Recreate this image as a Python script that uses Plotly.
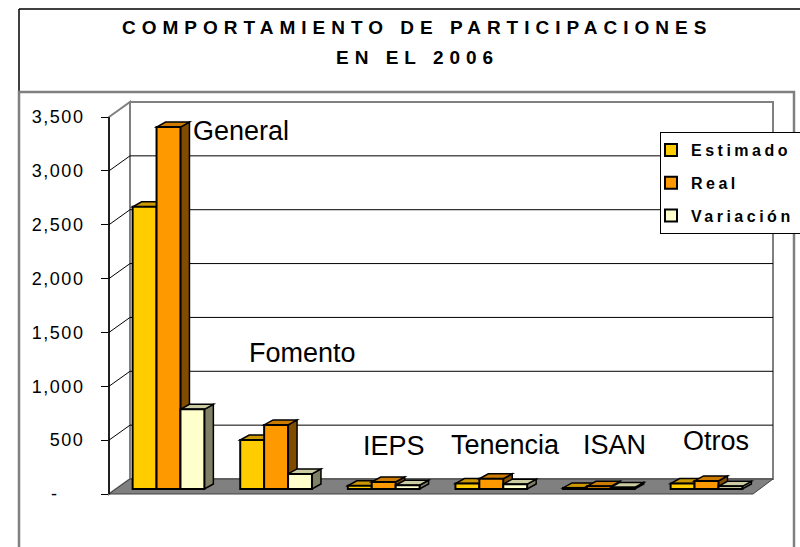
import plotly.graph_objects as go

# ---------------- data ----------------
categorias = ["General", "Fomento", "IEPS", "Tenencia", "ISAN", "Otros"]
estimado = [2620, 455, 30, 50, 10, 50]
real = [3360, 595, 65, 95, 25, 75]
variacion = [740, 140, 35, 45, 15, 25]
series_nombres = ["Estimado", "Real", "Variación"]
y_ticks = [0, 500, 1000, 1500, 2000, 2500, 3000, 3500]
y_ticktext = ["-\u00a0\u00a0\u00a0\u00a0", "500", "1,000", "1,500", "2,000",
              "2,500", "3,000", "3,500"]
titulo = ["COMPORTAMIENTO DE PARTICIPACIONES", "EN EL 2006"]

# ---------------- style ----------------
FONT = "Liberation Sans, Arial, sans-serif"
front_col = ["#FFCC00", "#FF9900", "#FFFFCC"]
top_col = ["#CC9900", "#CC7A00", "#CCCCA3"]
side_col = ["#997300", "#7F4C00", "#808066"]

W, H = 800, 547
L, R, T, B = 109, 780, 95, 500          # plot area in px
PW, PH = R - L, B - T
PITCH = 107.6                            # px per category
X0 = -(168.5 - L) / PITCH
X1 = X0 + PW / PITCH
K = 377 / 3500                           # px per unit
FRONT0 = 494                             # zero line of front plane (px)
BAR0 = 489                               # zero line of bar plane (px)
BASE = (FRONT0 - BAR0) / K               # bar plane sits a little behind the front
DX, DY = 21, 15                          # wall depth (px)
BDX, BDY = 9, 5                          # bar depth (px)
BACK_R, FRONT_R = 773, 753


def px(x):
    return (x - L) / PW


def py(y):
    return (B - y) / PH


series = [estimado, real, variacion]
fig = go.Figure()
for j, (name, vals) in enumerate(zip(series_nombres, series)):
    fig.add_trace(go.Bar(
        x=categorias, y=vals, base=BASE, name=name, customdata=vals,
        marker=dict(color=front_col[j], line=dict(color="black", width=2)),
        legendgroup=name, hovertemplate="%{x}: %{customdata:,}<extra>" + name + "</extra>",
    ))

shapes = []
# frame
shapes.append(dict(type="line", xref="paper", yref="paper", x0=px(19), x1=px(800),
                   y0=py(9), y1=py(9), line=dict(color="black", width=1.5)))
shapes.append(dict(type="line", xref="paper", yref="paper", x0=px(19), x1=px(19),
                   y0=py(9), y1=py(560), line=dict(color="black", width=1.5)))
shapes.append(dict(type="rect", xref="paper", yref="paper", x0=px(19), x1=px(794),
                   y0=py(92), y1=py(600), line=dict(color="#808080", width=2.5)))

ytop_f = FRONT0 - y_ticks[-1] * K
# side wall
shapes.append(dict(type="path", xref="paper", yref="paper", layer="below",
                   path=f"M{px(L)},{py(ytop_f)} L{px(L+DX)},{py(ytop_f-DY)} "
                        f"L{px(L+DX)},{py(FRONT0-DY)} L{px(L)},{py(FRONT0)} Z",
                   fillcolor="white", line=dict(color="#808080", width=2)))
# back wall
shapes.append(dict(type="rect", xref="paper", yref="paper", layer="below",
                   x0=px(L + DX), x1=px(BACK_R), y0=py(FRONT0 - DY), y1=py(ytop_f - DY),
                   fillcolor="white", line=dict(color="#808080", width=2)))
# gridlines
for v in y_ticks[1:-1]:
    yf = FRONT0 - v * K
    shapes.append(dict(type="line", xref="paper", yref="paper", layer="below",
                       x0=px(L + DX), x1=px(BACK_R), y0=py(yf - DY), y1=py(yf - DY),
                       line=dict(color="black", width=1)))
    shapes.append(dict(type="line", xref="paper", yref="paper", layer="below",
                       x0=px(L), x1=px(L + DX), y0=py(yf), y1=py(yf - DY),
                       line=dict(color="black", width=1)))
# floor
shapes.append(dict(type="path", xref="paper", yref="paper", layer="below",
                   path=f"M{px(L)},{py(FRONT0)} L{px(FRONT_R)},{py(FRONT0)} "
                        f"L{px(BACK_R)},{py(FRONT0-DY)} L{px(L+DX)},{py(FRONT0-DY)} Z",
                   fillcolor="#808080", line=dict(color="#404040", width=1)))
# front axis line
shapes.append(dict(type="line", xref="paper", yref="paper", layer="below",
                   x0=px(L), x1=px(L), y0=py(ytop_f), y1=py(FRONT0),
                   line=dict(color="black", width=1.5)))

# 3D faces of the bars (in data coordinates)
bw = (1 - 1 / 3) / 3
ddx = BDX / PITCH
ddy = BDY / K
for i in range(len(categorias)):
    for j, vals in enumerate(series):
        v = vals[i] + BASE
        lx = i - 1 / 3 + j * bw
        rx = lx + bw
        shapes.append(dict(type="path", xref="x", yref="y", layer="below",
                           path=f"M{rx},{BASE} L{rx},{v} L{rx+ddx},{v+ddy} L{rx+ddx},{BASE+ddy} Z",
                           fillcolor=side_col[j], line=dict(color="black", width=1.5)))
        shapes.append(dict(type="path", xref="x", yref="y", layer="below",
                           path=f"M{lx},{v} L{lx+ddx},{v+ddy} L{rx+ddx},{v+ddy} L{rx},{v} Z",
                           fillcolor=top_col[j], line=dict(color="black", width=1.5)))

annotations = []
for txt, yy in zip(titulo, [27, 58]):
    annotations.append(dict(text=txt, xref="paper", yref="paper", x=px(417), y=py(yy),
                            showarrow=False, xanchor="center", yanchor="middle",
                            font=dict(family=FONT, size=19, color="black", weight="bold")))
label_pos = [(241, 131), (302, 353), (394, 446), (505, 445), (614, 445), (716, 441)]
for cat, (lx_, ly_) in zip(categorias, label_pos):
    annotations.append(dict(text=cat, xref="paper", yref="paper", x=px(lx_), y=py(ly_),
                            showarrow=False, xanchor="center", yanchor="middle",
                            font=dict(family=FONT, size=27, color="black")))

LEG_X = 650          # legend group left (px); its frame is moved to 660 below
fig.update_layout(
    width=W, height=H,
    margin=dict(l=L, r=W - R, t=T, b=H - B, autoexpand=False),
    paper_bgcolor="white", plot_bgcolor="rgba(0,0,0,0)",
    barmode="group", bargap=1 / 3, bargroupgap=0,
    shapes=shapes, annotations=annotations,
    showlegend=True,
    legend=dict(x=px(LEG_X), y=py(132), xanchor="left", yanchor="top",
                bgcolor="white", bordercolor="black", borderwidth=1,
                font=dict(family=FONT, size=16, color="black", weight="bold"),
                tracegroupgap=9, traceorder="grouped"),
    xaxis=dict(type="category", range=[X0, X1], showticklabels=False, showgrid=False,
               zeroline=False, showline=False, ticks=""),
    yaxis=dict(range=[-(B - FRONT0) / K, (FRONT0 - T) / K], tickvals=y_ticks,
               ticktext=y_ticktext, ticks="outside", ticklen=7, tickcolor="black",
               tickwidth=1, showgrid=False, zeroline=False, showline=False,
               tickfont=dict(family=FONT, size=18, color="black"),
               ticklabelstandoff=13),
)

post = """
document.body.style.margin = '0';
var gd = document.getElementById('{plot_id}');
gd.querySelectorAll('.annotation-text').forEach(function(t){
  if (/COMPORTAMIENTO|2006/.test(t.textContent)) { t.style.letterSpacing = '6px'; }
});
gd.querySelectorAll('.ytick text').forEach(function(t){ t.style.letterSpacing = '1.5px'; });
gd.querySelectorAll('.legendtext').forEach(function(t){ t.style.letterSpacing = '3.5px'; });
gd.querySelectorAll('.legend [clip-path]').forEach(function(e){ e.removeAttribute('clip-path'); });
var bg = gd.querySelector('.legend rect.bg');
if (bg) { bg.setAttribute('x', '10.5'); bg.setAttribute('width', '200'); }
"""
fig.write_html("out.html", post_script=post, config={"displayModeBar": False})
